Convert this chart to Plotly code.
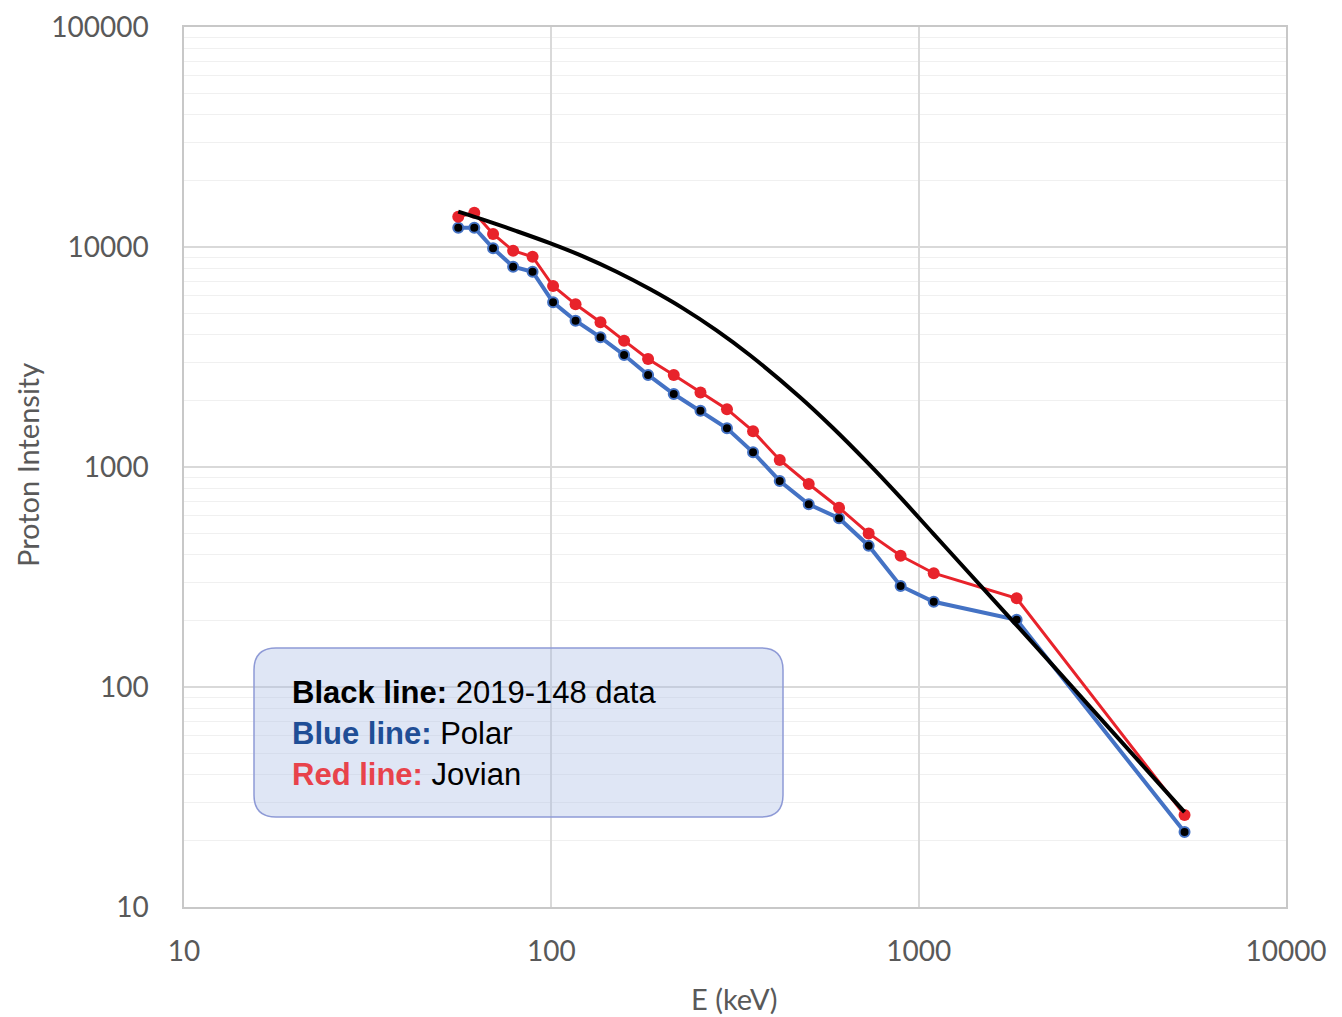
import plotly.graph_objects as go

# Energies (keV) shared by the Polar and Jovian series
energy = [55.8, 61.7, 69.4, 78.7, 88.9, 101.1, 116.4, 136.1, 157.8, 183.4, 215.4,
          254.7, 300.7, 354.1, 418.6, 502.0, 607, 731, 893, 1099, 1848, 5294]
polar = [12240, 12240, 9865, 8138, 7722, 5606, 4624, 3886, 3229, 2620, 2147,
         1803, 1499, 1166, 864, 677, 585, 439, 288, 244, 202, 21.9]
jovian = [13730, 14320, 11460, 9620, 9035, 6648, 5490, 4547, 3751, 3097, 2620,
          2181, 1831, 1455, 1076, 837, 653, 499, 395, 329, 253, 26.2]

# 2019-148 data curve
data_energy = [55.8, 65.2, 80.4, 99.1, 122.0, 150.5, 185.4, 228.4, 281.6, 346.8,
               474.6, 584.6, 720.5, 887.8, 1094, 1348, 1661, 2046, 5294]
data_int = [14470, 13310, 11810, 10410, 9064, 7715, 6437, 5260, 4178, 3229,
            2081, 1504, 1060, 733, 499.4, 340.2, 232.0, 158.2, 27.0]

x_ticks = [10, 100, 1000, 10000]
y_ticks = [10, 100, 1000, 10000, 100000]

fig = go.Figure()

fig.add_trace(go.Scatter(
    x=energy, y=polar, mode="lines+markers",
    line=dict(color="#4472C4", width=4),
    marker=dict(color="black", size=10, line=dict(color="#4472C4", width=2)),
    name="Polar"))
fig.add_trace(go.Scatter(
    x=energy, y=jovian, mode="lines+markers",
    line=dict(color="#E8232B", width=3),
    marker=dict(color="#E8232B", size=12),
    name="Jovian"))
fig.add_trace(go.Scatter(
    x=data_energy, y=data_int, mode="lines",
    line=dict(color="black", width=4, shape="spline", smoothing=1.0),
    name="2019-148 data"))

tickfont = dict(family="Lato, 'Open Sans', sans-serif", size=28, color="#595959")

fig.update_xaxes(
    type="log", range=[1, 4], automargin=False,
    tickvals=x_ticks, ticktext=[str(v) for v in x_ticks],
    tickfont=tickfont,
    showgrid=True, gridcolor="#d9d9d9", gridwidth=1.5,
    showline=True, linecolor="#c8c8c8", linewidth=1.5, mirror=True,
    ticks="outside", ticklen=19, tickcolor="rgba(0,0,0,0)",
    zeroline=False)
fig.update_yaxes(
    type="log", range=[1, 5], automargin=False,
    tickvals=y_ticks, ticktext=[str(v) for v in y_ticks],
    tickfont=tickfont,
    showgrid=True, gridcolor="#d9d9d9", gridwidth=1.5,
    minor=dict(dtick="D1", showgrid=True, gridcolor="#f0f0f0", gridwidth=1),
    showline=True, linecolor="#c8c8c8", linewidth=1.5, mirror=True,
    ticks="outside", ticklen=28, tickcolor="rgba(0,0,0,0)",
    zeroline=False)

# Rounded legend box in paper coordinates
W, H = 1102.0, 880.0
x0, x1 = (254 - 184) / W, (783 - 184) / W
y0, y1 = (907 - 817) / H, (907 - 648) / H
rx, ry = 22 / W, 22 / H
path = (f"M {x0+rx},{y0} L {x1-rx},{y0} Q {x1},{y0} {x1},{y0+ry} "
        f"L {x1},{y1-ry} Q {x1},{y1} {x1-rx},{y1} "
        f"L {x0+rx},{y1} Q {x0},{y1} {x0},{y1-ry} "
        f"L {x0},{y0+ry} Q {x0},{y0} {x0+rx},{y0} Z")
fig.add_shape(type="path", path=path, xref="paper", yref="paper",
              fillcolor="rgba(170,188,228,0.38)",
              line=dict(color="#8e9ad6", width=1.5), layer="above")

legend_font = dict(family="'Liberation Sans', Arial, sans-serif", size=31, color="black")
lines = [
    ("<b>Black line:</b> 2019-148 data", 692),
    ("<b><span style='color:#1F4E96'>Blue line:</span></b> Polar", 733),
    ("<b><span style='color:#E8434B'>Red line:</span></b> Jovian", 774),
]
for txt, py in lines:
    fig.add_annotation(text=txt, xref="paper", yref="paper",
                       x=(290 - 184) / W, y=(907 - py) / H,
                       xanchor="left", yanchor="middle", showarrow=False,
                       font=legend_font)

title_font = dict(family="Lato, 'Open Sans', sans-serif", size=29, color="#595959")
fig.add_annotation(text="Proton Intensity", xref="paper", yref="paper",
                   x=(28 - 184) / W, y=(907 - 465) / H, textangle=-90,
                   xanchor="center", yanchor="middle", showarrow=False,
                   font=title_font)
fig.add_annotation(text="E (keV)", xref="paper", yref="paper",
                   x=(734 - 184) / W, y=(907 - 998) / H,
                   xanchor="center", yanchor="middle", showarrow=False,
                   font=title_font)

# page body has an 8px margin: shift the figure so the plot area lands in place
fig.update_layout(
    width=1334, height=1009,
    margin=dict(l=176, r=56, t=19, b=110),
    paper_bgcolor="white", plot_bgcolor="white",
    showlegend=False,
)

fig.write_html("out.html")
